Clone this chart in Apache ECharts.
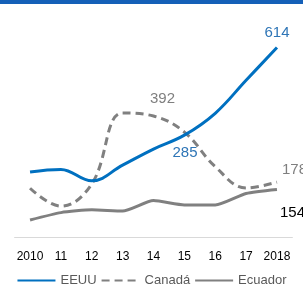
<!DOCTYPE html>
<html>
<head>
<meta charset="utf-8">
<script src="https://cdn.jsdelivr.net/npm/echarts@6/dist/echarts.min.js"></script>
<style>
  html, body { margin: 0; padding: 0; background: #fff; }
  #chart { width: 303px; height: 296px; }
</style>
</head>
<body>
<div id="chart"></div>
<script>
var years = ['2010', '11', '12', '13', '14', '15', '16', '17', '2018']
var eeuu = [211, 219, 182, 233, 285, 330, 401, 508, 614]
var canada = [158, 100, 172, 402, 392, 340, 228, 159, 178]
var ecuador = [55, 79, 88, 84, 118, 104, 104, 141, 154]

var font = 'Liberation Sans'

// etiquetas sólo en algunos puntos
function withLabels(values, labels) {
  return values.map(function (v, i) {
    if (labels[i]) {
      return { value: v, label: Object.assign({ show: true, fontFamily: font, fontSize: 15 }, labels[i]) }
    }
    return v
  })
}

var chart = echarts.init(document.getElementById('chart'))
chart.setOption({
  animation: false,
  graphic: [{
    type: 'rect',
    shape: { x: 0, y: 0, width: 303, height: 4 },
    style: { fill: '#1560b8' }
  }],
  grid: { left: 14.6, right: 10.6, top: 21, bottom: 59 },
  legend: {
    bottom: 4,
    left: 'center',
    itemWidth: 38,
    itemHeight: 10,
    itemGap: 4,
    itemStyle: { opacity: 0 },
    textStyle: { fontFamily: font, fontSize: 13, color: '#595959' },
    data: ['EEUU', 'Canadá', 'Ecuador']
  },
  xAxis: {
    type: 'category',
    data: years,
    boundaryGap: true,
    axisLine: { lineStyle: { color: '#d9d9d9', width: 1 } },
    axisTick: { show: false },
    axisLabel: { color: '#000', fontFamily: font, fontSize: 12, margin: 14, interval: 0 }
  },
  yAxis: {
    type: 'value',
    min: 0,
    max: 700,
    show: false,
    splitLine: { show: false }
  },
  series: [{
    name: 'EEUU',
    type: 'line',
    smooth: 0.4,
    symbol: 'circle',
    symbolSize: 0.01,
    lineStyle: { color: '#0070c0', width: 3 },
    itemStyle: { color: '#0070c0' },
    data: withLabels(eeuu, {
      4: { position: 'right', offset: [14, 4], color: '#2e75b6' },
      8: { position: 'top', offset: [0, -2], color: '#2e75b6' }
    }),
    z: 3
  }, {
    name: 'Canadá',
    type: 'line',
    smooth: 0.4,
    symbol: 'circle',
    symbolSize: 0.01,
    lineStyle: { color: '#808080', width: 3, type: [8, 5] },
    itemStyle: { color: '#808080' },
    data: withLabels(canada, {
      4: { position: 'top', offset: [9, -5], color: '#7f7f7f' },
      8: { position: 'right', offset: [0, -12], color: '#7f7f7f' }
    }),
    z: 2
  }, {
    name: 'Ecuador',
    type: 'line',
    smooth: 0.2,
    symbol: 'circle',
    symbolSize: 0.01,
    lineStyle: { color: '#808080', width: 3 },
    itemStyle: { color: '#808080' },
    data: withLabels(ecuador, {
      8: { position: 'right', offset: [-2, 23], color: '#000' }
    }),
    z: 2
  }]
})
</script>
</body>
</html>
